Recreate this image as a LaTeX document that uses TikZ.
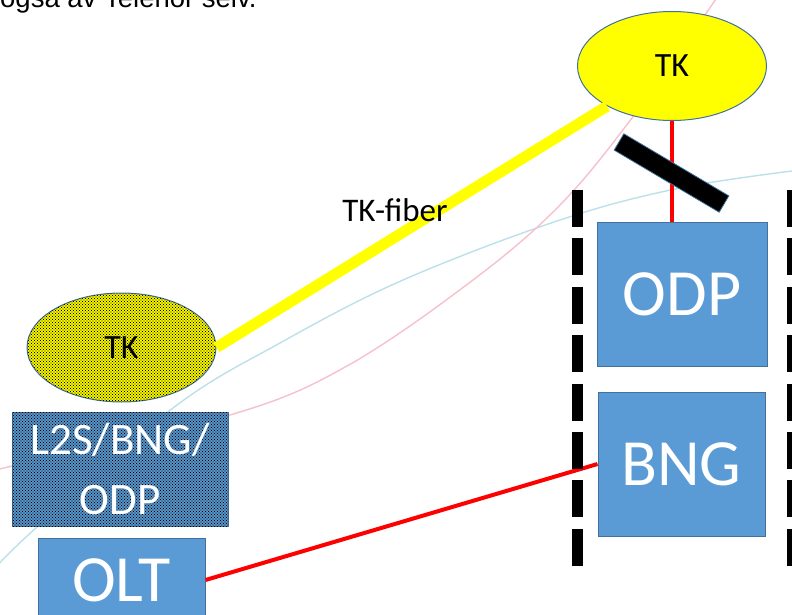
\documentclass[tikz,border=0pt]{standalone}
\usepackage{fontspec}
\setmainfont{Carlito}
\newfontfamily\arialfont{Liberation Sans}
\usetikzlibrary{shapes.geometric,patterns}
\definecolor{boxblue}{HTML}{5B9BD5}
\definecolor{edgeblue}{HTML}{41719C}
\definecolor{faintblue}{RGB}{188,224,233}
\definecolor{faintpink}{RGB}{246,192,204}
\definecolor{fibred}{HTML}{FF0000}
\definecolor{fibyellow}{HTML}{FFFF00}
\pgfdeclarepatternformonly{densedots}{\pgfqpoint{-1pt}{-1pt}}{\pgfqpoint{4pt}{4pt}}{\pgfqpoint{3pt}{3pt}}{%
  \pgfpathcircle{\pgfqpoint{0pt}{0pt}}{0.72pt}%
  \pgfpathcircle{\pgfqpoint{1.5pt}{1.5pt}}{0.72pt}%
  \pgfusepath{fill}}
\begin{document}
\begin{tikzpicture}[x=1pt,y=-1pt,
  tkell/.style={ellipse, draw=edgeblue, line width=1pt, fill=fibyellow,
    minimum width=189pt, minimum height=109pt, inner sep=0pt,
    font=\fontsize{34}{40}\selectfont},
  bluebox/.style={rectangle, draw=edgeblue, line width=1pt, fill=boxblue,
    inner sep=0pt, text=white, font=\fontsize{66}{70}\selectfont},
  dotfill/.style={postaction={pattern=densedots, pattern color=black}},
  redlink/.style={draw=fibred, line width=3.5pt},
  yellowlink/.style={draw=fibyellow, line width=11pt},
  faintcurve/.style={line width=1.4pt, smooth, tension=0.6},
  walldash/.style={draw=black, line width=11pt, dash pattern=on 37pt off 11.4pt}
]
\useasboundingbox (0,0) rectangle (792,615);
\clip (0,0) rectangle (792,615);

% faint background curves
\draw[faintcurve, faintblue] plot coordinates {(-5,568) (37,527) (173,408) (280,343) (403,280) (560,220) (680,188) (800,170)};
\draw[faintcurve, faintpink] plot coordinates {(-5,471) (12,466) (230,415) (347,366) (473,280) (560,205) (632,118) (707,12) (718,-5)};

% caption at top (cut off)
\node[anchor=base west, inner sep=0pt, font=\arialfont\fontsize{27.5}{32}\selectfont] (note) at (0,8) {også av Telenor selv.};

% nodes
\node[tkell] (tkT) at (672,66) {TK};
\node[tkell, dotfill] (tkL) at (121.5,347.5) {TK};
\node[bluebox, minimum width=170pt, minimum height=144pt] (odp) at (682,294) {ODP};
\node[bluebox, minimum width=167pt, minimum height=144pt] (bng) at (681.5,464) {BNG};
\node[bluebox, dotfill, minimum width=216pt, minimum height=114pt, align=center,
  font=\fontsize{45}{60}\selectfont] (l2s) at (120,469) {L2S/BNG/\\ODP};
\node[bluebox, minimum width=167pt, minimum height=84pt] (olt) at (121.5,580) {OLT};

% connectors
\draw[yellowlink] (tkL.east) -- (tkT);
\node[font=\fontsize{33}{38}\selectfont, inner sep=0pt] (fiberlabel) at (395,210) {TK-fiber};
\draw[redlink] (tkT.south) -- (tkT.south |- odp.north);
\draw[redlink, line width=4pt] (olt.east) -- (bng.west);

% black bar (splice / cut symbol)
\node[rectangle, fill=black, draw=edgeblue, line width=0.8pt, inner sep=0pt,
  minimum width=122pt, minimum height=19pt, rotate=-30.6] (bar) at (671.5,173) {};

% dashed walls
\draw[walldash] (577,190) -- (577,566);
\draw[walldash] (792,190) -- (792,566);
\end{tikzpicture}
\end{document}
